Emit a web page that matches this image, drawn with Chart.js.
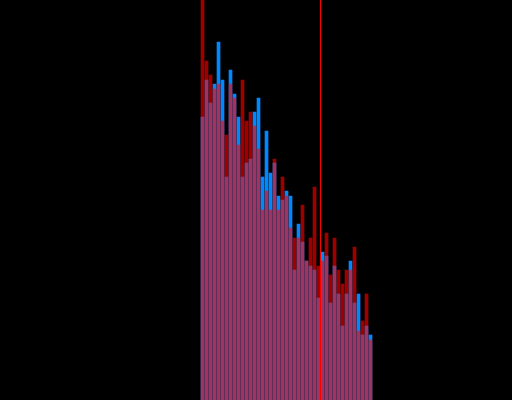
<!DOCTYPE html>
<html>
<head>
<meta charset="utf-8">
<script src="https://cdn.jsdelivr.net/npm/chart.js@4/dist/chart.umd.min.js"></script>
<style>
  html, body { margin: 0; padding: 0; background: #000; }
  canvas { display: block; }
</style>
</head>
<body>
<canvas id="hist" width="512" height="400"></canvas>
<script>
// bin positions (bin index)
const bins = [0, 1, 2, 3, 4, 5, 6, 7, 8, 9, 10, 11, 12, 13, 14, 15, 16, 17, 18, 19, 20,
  21, 22, 23, 24, 25, 26, 27, 28, 29, 30, 31, 32, 33, 34, 35, 36, 37, 38, 39, 40, 41, 42];

// blue series (drawn below)
const blueCounts = [283, 320, 297, 316, 358, 320, 223, 330, 306, 283, 223, 237, 241, 288, 302,
  223, 269, 227, 237, 204, 200, 209, 204, 130, 176, 158, 139, 134, 130, 102, 148, 144, 97,
  134, 106, 74, 106, 139, 97, 106, 65, 74, 65];

// red series (translucent, drawn on top)
const redCounts = [420, 339, 325, 311, 316, 279, 265, 316, 302, 255, 320, 279, 288, 274, 251,
  190, 209, 190, 241, 190, 223, 204, 172, 162, 162, 195, 139, 162, 213, 134, 139, 167, 125,
  162, 130, 116, 130, 130, 153, 69, 79, 106, 60];

// threshold marker, between bins 29 and 30
const threshold = 29.5;

const yMax = 400;

const toPoints = (vals) => bins.map((b, i) => ({ x: b, y: vals[i] }));

const ctx = document.getElementById('hist').getContext('2d');

new Chart(ctx, {
  data: {
    datasets: [
      {
        type: 'bar',
        data: toPoints(blueCounts),
        backgroundColor: '#0088ff',
        borderWidth: 0,
        barThickness: 3,
        grouped: false,
        order: 3,
      },
      {
        type: 'bar',
        data: toPoints(redCounts),
        backgroundColor: 'rgba(255, 0, 0, 0.62)',
        borderWidth: 0,
        barThickness: 3,
        grouped: false,
        order: 2,
      },
      {
        type: 'line',
        data: [{ x: threshold, y: 0 }, { x: threshold, y: yMax }],
        borderColor: '#ff0000',
        borderWidth: 1,
        pointRadius: 0,
        order: 1,
      },
    ],
  },
  options: {
    responsive: false,
    animation: false,
    layout: { padding: 0 },
    plugins: {
      legend: { display: false },
      tooltip: { enabled: false },
    },
    scales: {
      x: {
        type: 'linear',
        display: false,
        offset: false,
        min: -50.625,
        max: 77.375,
      },
      y: {
        display: false,
        min: 0,
        max: yMax,
      },
    },
  },
});
</script>
</body>
</html>
